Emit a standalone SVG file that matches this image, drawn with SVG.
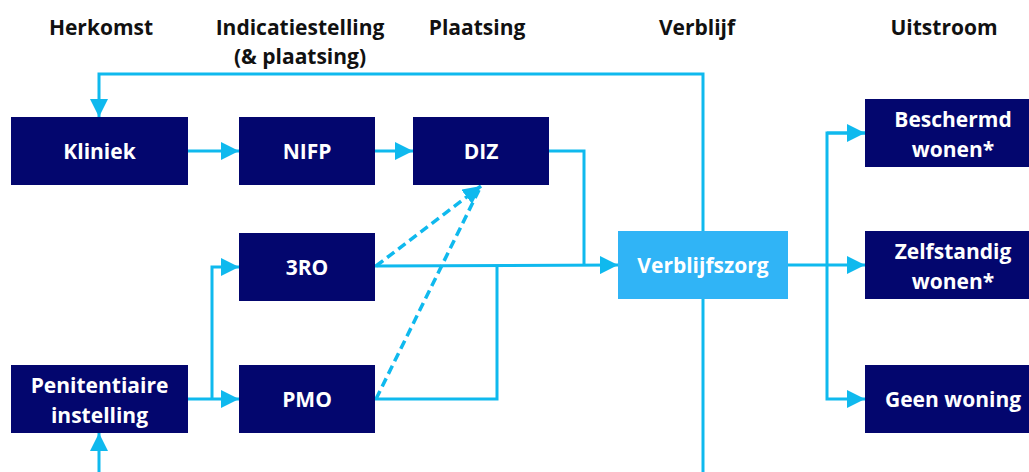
<svg xmlns="http://www.w3.org/2000/svg" width="1029" height="472" viewBox="0 0 1029 472">
<defs>
<style>
.hdr{font-family:"Open Sans","Liberation Sans",sans-serif;font-weight:bold;font-size:21px;fill:#111;text-anchor:middle}
.box{fill:#03066e}
.boxl{fill:#30b4f6}
.lbl{font-family:"Open Sans","Liberation Sans",sans-serif;font-weight:bold;font-size:21px;fill:#fff;text-anchor:middle}
.ln{fill:none;stroke:#0fb9ee;stroke-width:3}
.dash{fill:none;stroke:#0fb9ee;stroke-width:3.5;stroke-dasharray:9 5}
</style>
<marker id="ah" markerUnits="userSpaceOnUse" markerWidth="18" markerHeight="18" viewBox="0 0 16 16" refX="16" refY="8" orient="auto">
<path d="M0,0 L16,8 L0,16 Z" fill="#0fb9ee"/>
</marker>
</defs>
<rect width="1029" height="472" fill="#fff"/>
<g id="headers">
<text class="hdr" x="101" y="35">Herkomst</text>
<text class="hdr" x="300" y="35">Indicatiestelling</text>
<text class="hdr" x="300" y="64">(&amp; plaatsing)</text>
<text class="hdr" x="477" y="35">Plaatsing</text>
<text class="hdr" x="697" y="35">Verblijf</text>
<text class="hdr" x="944" y="35">Uitstroom</text>
</g>
<g id="connectors">
<polyline class="ln" points="703,231 703,74 99,74 99,117" marker-end="url(#ah)"/>
<line class="ln" x1="703" y1="299" x2="703" y2="472"/>
<line class="ln" x1="99" y1="472" x2="99" y2="433" marker-end="url(#ah)"/>
<line class="ln" x1="188" y1="151" x2="239" y2="151" marker-end="url(#ah)"/>
<line class="ln" x1="375" y1="151" x2="413" y2="151" marker-end="url(#ah)"/>
<polyline class="ln" points="549,151 584,151 584,265"/>
<line class="ln" x1="375" y1="266" x2="618" y2="265" marker-end="url(#ah)"/>
<polyline class="ln" points="375,399 497,399 497,265"/>
<line class="ln" x1="188" y1="399" x2="239" y2="399" marker-end="url(#ah)"/>
<polyline class="ln" points="212,399 212,267 239,267" marker-end="url(#ah)"/>
<line class="ln" x1="788" y1="265" x2="865" y2="265" marker-end="url(#ah)"/>
<polyline class="ln" points="865,133 827,133 827,399 865,399" marker-end="url(#ah)"/>
<path class="ln" d="M827,133 L865,133" marker-end="url(#ah)"/>
<line class="dash" x1="376" y1="266" x2="481" y2="186" marker-end="url(#ah)"/>
<line class="dash" x1="376" y1="399" x2="481" y2="186"/>
</g>
<g id="kliniek"><rect class="box" x="11" y="117" width="177" height="68"/><text class="lbl" x="99.5" y="159">Kliniek</text></g>
<g id="nifp"><rect class="box" x="239" y="117" width="136" height="68"/><text class="lbl" x="307" y="159">NIFP</text></g>
<g id="diz"><rect class="box" x="413" y="117" width="136" height="68"/><text class="lbl" x="481" y="159">DIZ</text></g>
<g id="3ro"><rect class="box" x="239" y="233" width="136" height="68"/><text class="lbl" x="307" y="275">3RO</text></g>
<g id="pmo"><rect class="box" x="239" y="365" width="136" height="68"/><text class="lbl" x="307" y="407">PMO</text></g>
<g id="penitentiaire"><rect class="box" x="11" y="365" width="177" height="68"/><text class="lbl" x="99.5" y="393">Penitentiaire</text><text class="lbl" x="99.5" y="423">instelling</text></g>
<g id="verblijfszorg"><rect class="boxl" x="618" y="231" width="170" height="68"/><text class="lbl" x="703" y="273">Verblijfszorg</text></g>
<g id="beschermd"><rect class="box" x="865" y="99" width="177" height="68"/><text class="lbl" x="953" y="127">Beschermd</text><text class="lbl" x="953" y="157">wonen*</text></g>
<g id="zelfstandig"><rect class="box" x="865" y="231" width="177" height="68"/><text class="lbl" x="953" y="259">Zelfstandig</text><text class="lbl" x="953" y="289">wonen*</text></g>
<g id="geen"><rect class="box" x="865" y="365" width="177" height="68"/><text class="lbl" x="953" y="407">Geen woning</text></g>
</svg>
